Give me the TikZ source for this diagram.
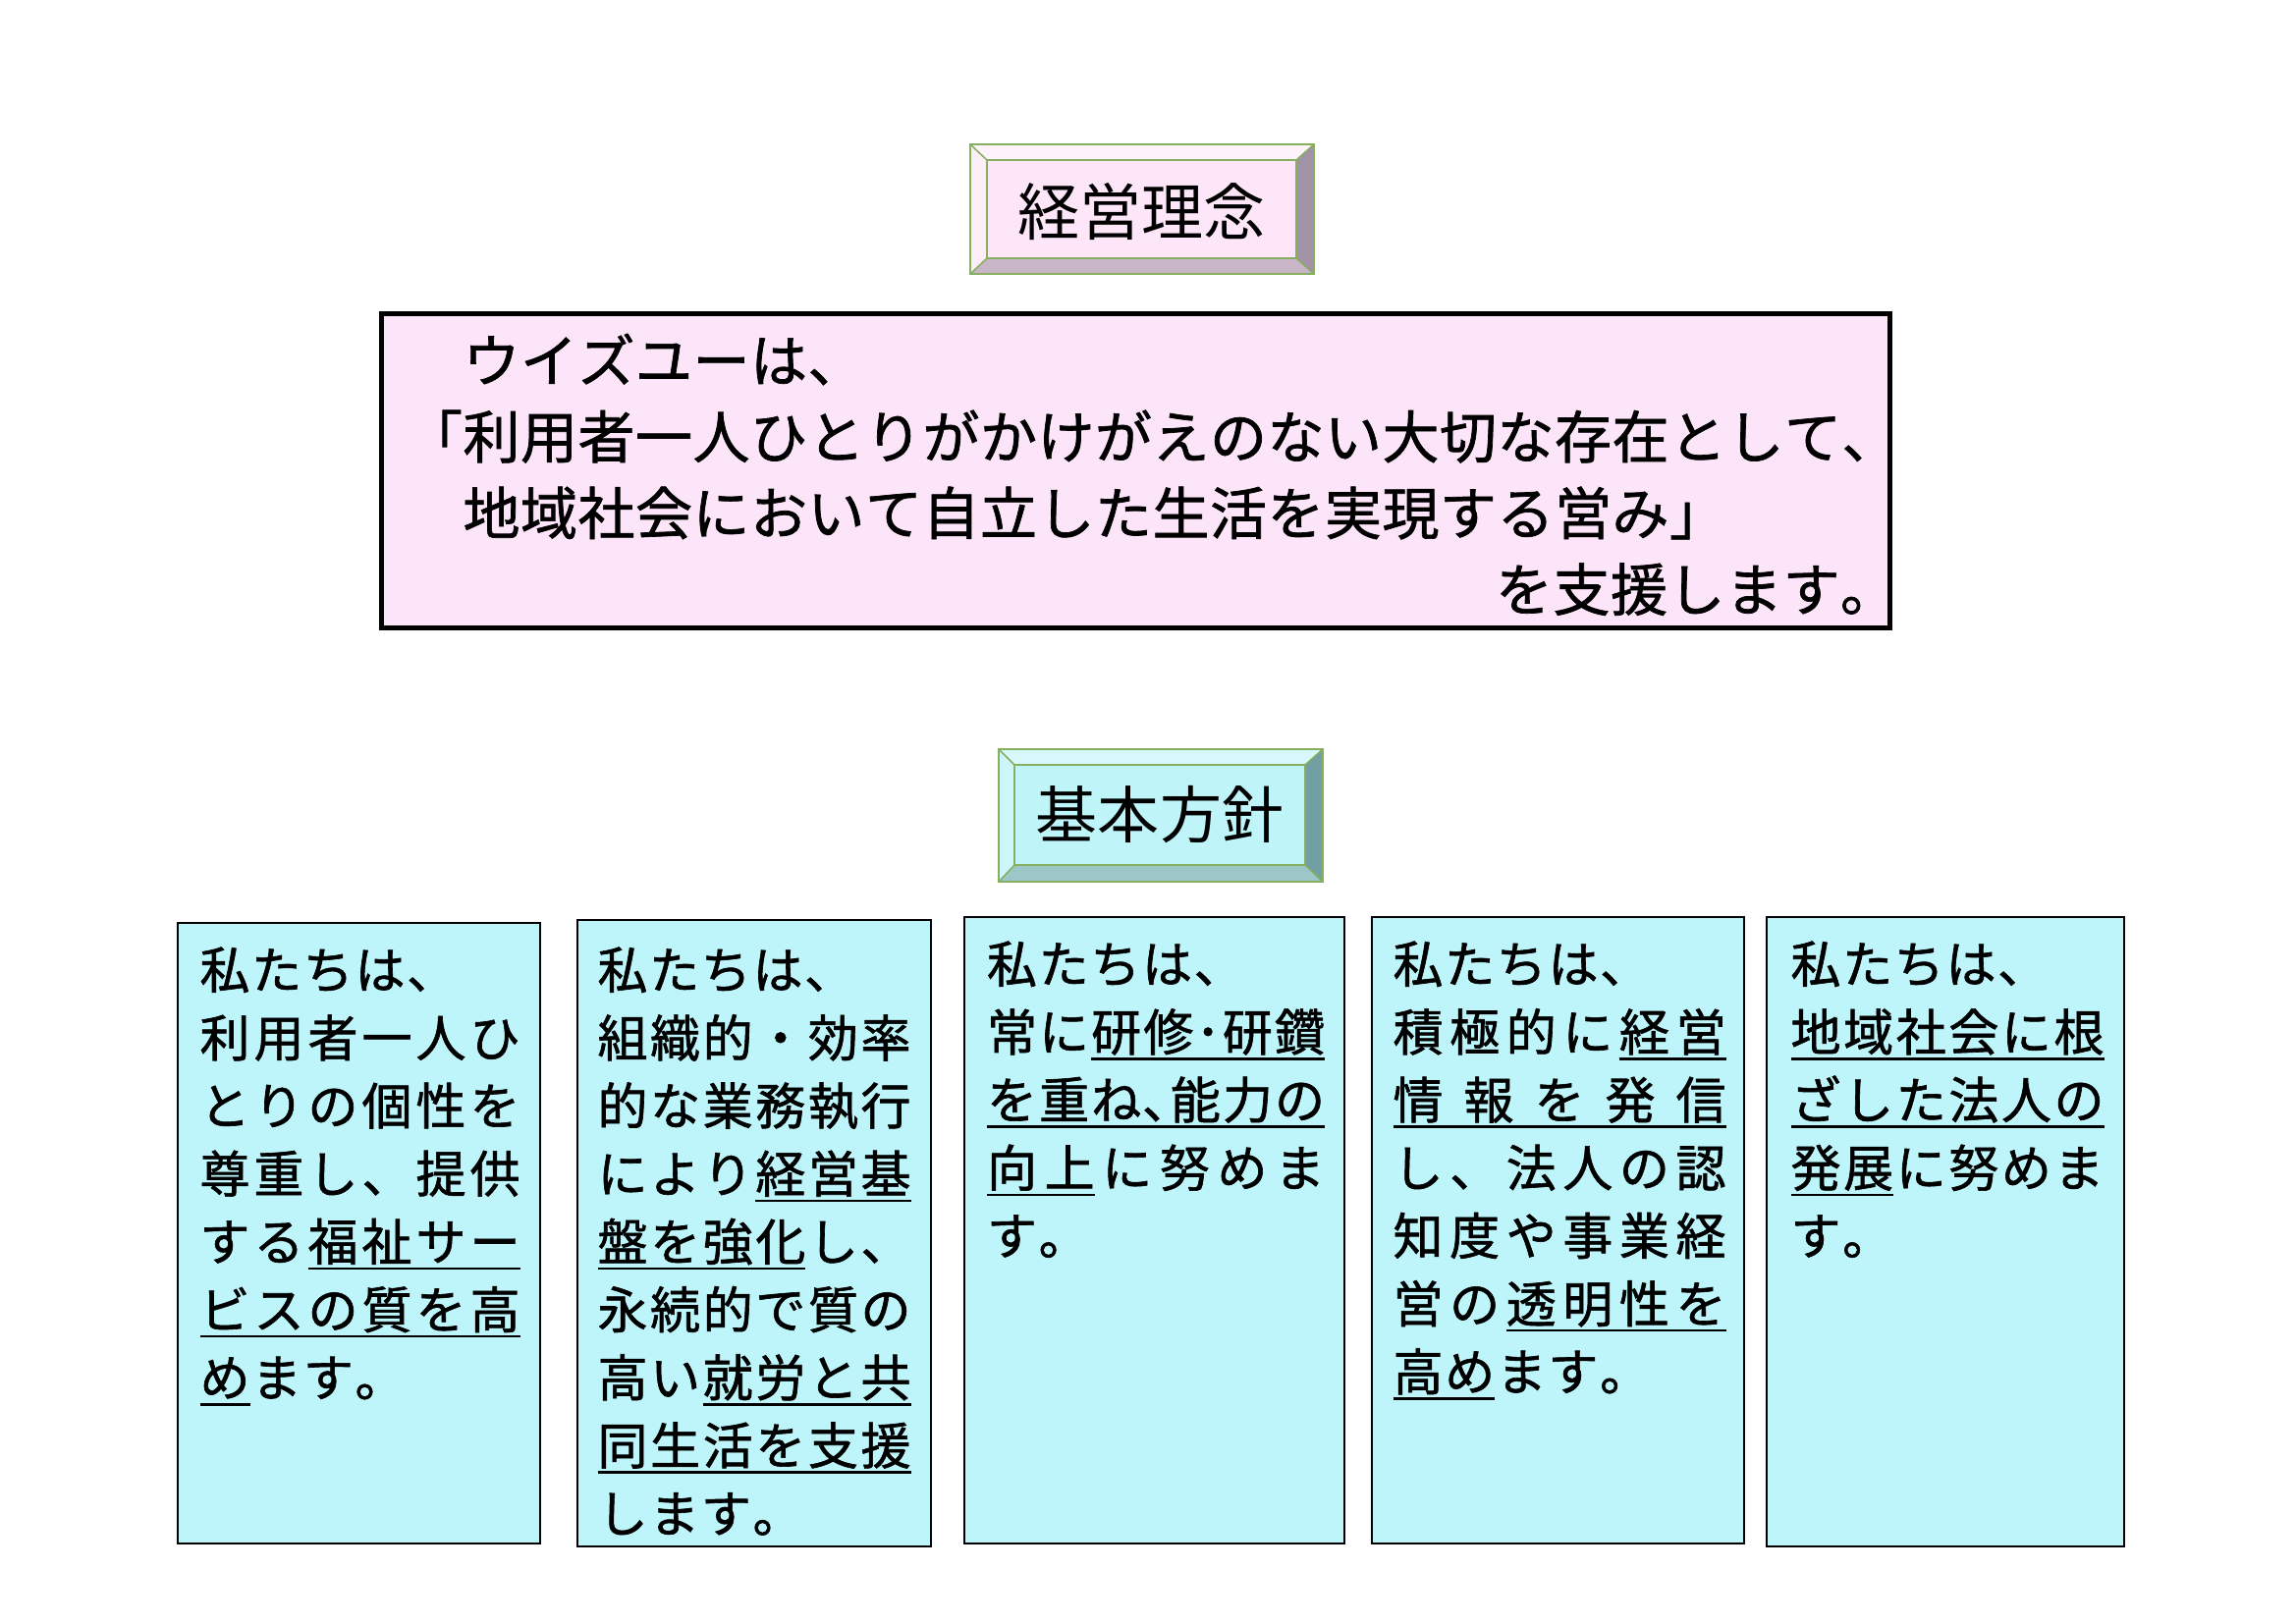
\documentclass[tikz,border=0pt]{standalone}
\usepackage{fontspec}
\newfontfamily\jp{Noto Sans CJK JP}
\newfontfamily\jpb[FakeBold=1.2]{Noto Sans CJK JP}
\usetikzlibrary{calc}
\definecolor{pinkbox}{HTML}{FCE5F8}
\definecolor{pinkface}{HTML}{FCE6F8}
\definecolor{pinktop}{HTML}{FEF3FC}
\definecolor{pinkleft}{HTML}{FDEEFA}
\definecolor{pinkbot}{HTML}{C8B6C8}
\definecolor{pinkright}{HTML}{A292A6}
\definecolor{cyanface}{HTML}{BFF4F8}
\definecolor{cyantop}{HTML}{D8F9FB}
\definecolor{cyanleft}{HTML}{CCF6F9}
\definecolor{cyanbot}{HTML}{9CC6C8}
\definecolor{cyanright}{HTML}{72A0A2}
\definecolor{bevgreen}{HTML}{86B060}
\definecolor{cyanbox}{HTML}{BDF5FA}
% --- justified / tracked Japanese lines with underlines ---
\newdimen\pxu \pxu=0.36pt
\newdimen\jtrk \jtrk=2pt
\newdimen\ulhi \ulhi=2pt
\newdimen\ullo \ullo=3pt
\newbox\jcharbox
\newif\ifjul \newif\ifjprev \newif\ifjfirst
\def\jend{JEND}\def\ulon{ULON}\def\uloff{ULOFF}
\def\jgap{\hfill}
\def\julgap{\leaders\hrule height -\ulhi depth \ullo\jgap}
\def\jput#1{%
  \ifjfirst\jfirstfalse
  \else
    \ifjul\ifjprev\julgap\else\jgap\fi
    \else\jgap\fi
  \fi
  \ifjul\setbox\jcharbox\hbox{#1}\rlap{\vrule height -\ulhi depth \ullo width \wd\jcharbox}\box\jcharbox\jprevtrue
  \else#1\jprevfalse\fi}
\def\jlnext#1{%
  \ifx#1\jend\let\jnext\relax
  \else\ifx#1\ulon\jultrue\let\jnext\jlnext
  \else\ifx#1\uloff\julfalse\let\jnext\jlnext
  \else\jput{#1}\let\jnext\jlnext
  \fi\fi\fi\jnext}
\newcommand\jl[2]{\hbox to #1{\jfirsttrue\julfalse\jprevfalse\def\jgap{\hfill}\jlnext#2\jend}}
\newcommand\jn[1]{\hbox{\jfirsttrue\julfalse\jprevfalse\def\jgap{\hskip\jtrk\relax}\jlnext#1\jend}}
\newcommand\boxset{\jtrk=0.6pt\relax\ulhi=2.5pt\relax\ullo=3.4pt\relax\baselineskip=24.91pt\relax\lineskiplimit=-100pt\relax}
\newcommand\topset{\jtrk=0.18pt\relax\baselineskip=27.97pt\relax\lineskiplimit=-100pt\relax}
% --- bevelled title frame around a named node ---
\newcommand\bevel[9]{%
  \coordinate (#1-onw) at ($(#1.north west)+(-#2,-#3)$);
  \coordinate (#1-one) at ($(#1.north east)+(#4,-#3)$);
  \coordinate (#1-ose) at ($(#1.south east)+(#4,#5)$);
  \coordinate (#1-osw) at ($(#1.south west)+(-#2,#5)$);
  \fill[#6] (#1-onw) -- (#1-one) -- (#1.north east) -- (#1.north west) -- cycle;
  \fill[#7] (#1-onw) -- (#1.north west) -- (#1.south west) -- (#1-osw) -- cycle;
  \fill[#8] (#1-osw) -- (#1.south west) -- (#1.south east) -- (#1-ose) -- cycle;
  \fill[#9] (#1-one) -- (#1-ose) -- (#1.south east) -- (#1.north east) -- cycle;
  \draw[bevelthin] (#1-onw) -- (#1.north west) (#1-one) -- (#1.north east)
    (#1-ose) -- (#1.south east) (#1-osw) -- (#1.south west);
  \draw[bevelthin] (#1.north west) rectangle (#1.south east);
  \draw[bevelthick] (#1-onw) rectangle (#1-ose);
}
\begin{document}
\begin{tikzpicture}[x=0.36pt,y=-0.36pt,
  titlebox/.style={draw=bevgreen, line width=0.6pt, inner sep=0pt, outer sep=0pt},
  titletext/.style={inner sep=0pt, font=\jp\fontsize{22.7pt}{27pt}\selectfont},
  bevelthin/.style={draw=bevgreen, line width=0.55pt},
  bevelthick/.style={draw=bevgreen, line width=0.9pt},
  infobox/.style={draw=black, line width=0.9pt, fill=cyanbox, inner sep=0pt, outer sep=0pt},
  boxtext/.style={anchor=base west, inner sep=0pt, font=\jpb\fontsize{18.36pt}{24.91pt}\selectfont},
  toptext/.style={anchor=base west, inner sep=0pt, font=\jpb\fontsize{20.88pt}{27.97pt}\selectfont}]
\path[use as bounding box, fill=white] (0,0) rectangle (2338,1653);

% ---- title 1 ----
\node[titlebox, fill=pinkface, minimum width=113.4pt, minimum height=36pt] (keiei) at (1162.5,213) {};
\bevel{keiei}{17}{16}{18}{16}{pinktop}{pinkleft}{pinkbot}{pinkright}
\node[titletext] (keieitext) at ([yshift=-1pt]keiei.center) {経営理念};

% ---- philosophy box ----
\node[draw=black, line width=1.8pt, fill=pinkbox, inner sep=0pt, outer sep=0pt,
  minimum width=552.96pt, minimum height=115.2pt] (philbox) at (1156.5,479) {};
\node[toptext] (philtext) at (412.5,389) {\topset\vtop{\topset
  \hbox{\kern58.5\pxu\jn{ウイズユーは、}}
  \hbox{\jn{「利用者一人ひとりがかけがえのない大切な存在として、}}
  \hbox{\kern58.5\pxu\jn{地域社会において自立した生活を実現する営み」}}
  \hbox{\kern1110\pxu\jn{を支援します。}}}};

% ---- title 2 ----
\node[titlebox, fill=cyanface, minimum width=106.56pt, minimum height=36.72pt] (kihon) at (1181,830) {};
\bevel{kihon}{16}{16}{18}{17}{cyantop}{cyanleft}{cyanbot}{cyanright}
\node[titletext] (kihontext) at (kihon.center) {基本方針};

% ---- five policy boxes ----
\node[infobox, minimum width=132.84pt, minimum height=227.52pt] (b1) at (365.5,1256) {};
\node[infobox, minimum width=129.6pt, minimum height=229.68pt] (b2) at (768,1256) {};
\node[infobox, minimum width=139.32pt, minimum height=229.68pt] (b3) at (1175.5,1253) {};
\node[infobox, minimum width=136.44pt, minimum height=229.68pt] (b4) at (1586.5,1253) {};
\node[infobox, minimum width=131.04pt, minimum height=230.76pt] (b5) at (1981,1254.5) {};

\node[boxtext] (t1) at (203,1007) {\boxset\vtop{\boxset
  \jn{私たちは、}
  \jl{326\pxu}{利用者一人ひ}
  \jl{326\pxu}{とりの個性を}
  \jl{326\pxu}{尊重し、提供}
  \jl{326\pxu}{する\ulon 福祉サー\uloff}
  \jl{326\pxu}{\ulon ビスの質を高\uloff}
  \jn{\ulon め\uloff ます。}}};

\node[boxtext] (t2) at (608,1007) {\boxset\vtop{\boxset
  \jn{私たちは、}
  \jl{319\pxu}{組織的・効率}
  \jl{319\pxu}{的な業務執行}
  \jl{319\pxu}{により\ulon 経営基\uloff}
  \jl{319\pxu}{\ulon 盤を強化\uloff し、}
  \jl{319\pxu}{永続的で質の}
  \jl{319\pxu}{高い\ulon 就労と共\uloff}
  \jl{319\pxu}{\ulon 同生活を支援\uloff}
  \jn{します。}}};

\node[boxtext] (t3) at (1004.5,1001) {\boxset\vtop{\boxset
  \jn{私たちは、}
  \jl{344\pxu}{常に\ulon 研修･研鑽\uloff}
  \jl{344\pxu}{\ulon を重ね､能力の\uloff}
  \jl{344\pxu}{\ulon 向上\uloff に努めま}
  \jn{す。}}};

\node[boxtext] (t4) at (1418,1001) {\boxset\vtop{\boxset
  \jn{私たちは、}
  \jl{339\pxu}{積極的に\ulon 経営\uloff}
  \jl{339\pxu}{\ulon 情報を発信\uloff}
  \jl{339\pxu}{し、法人の認}
  \jl{339\pxu}{知度や事業経}
  \jl{339\pxu}{営の\ulon 透明性を\uloff}
  \jn{\ulon 高め\uloff ます。}}};

\node[boxtext] (t5) at (1823,1001) {\boxset\vtop{\boxset
  \jn{私たちは、}
  \jl{319\pxu}{\ulon 地域社会に根\uloff}
  \jl{319\pxu}{\ulon ざした法人の\uloff}
  \jl{319\pxu}{\ulon 発展\uloff に努めま}
  \jn{す。}}};
\end{tikzpicture}
\end{document}
